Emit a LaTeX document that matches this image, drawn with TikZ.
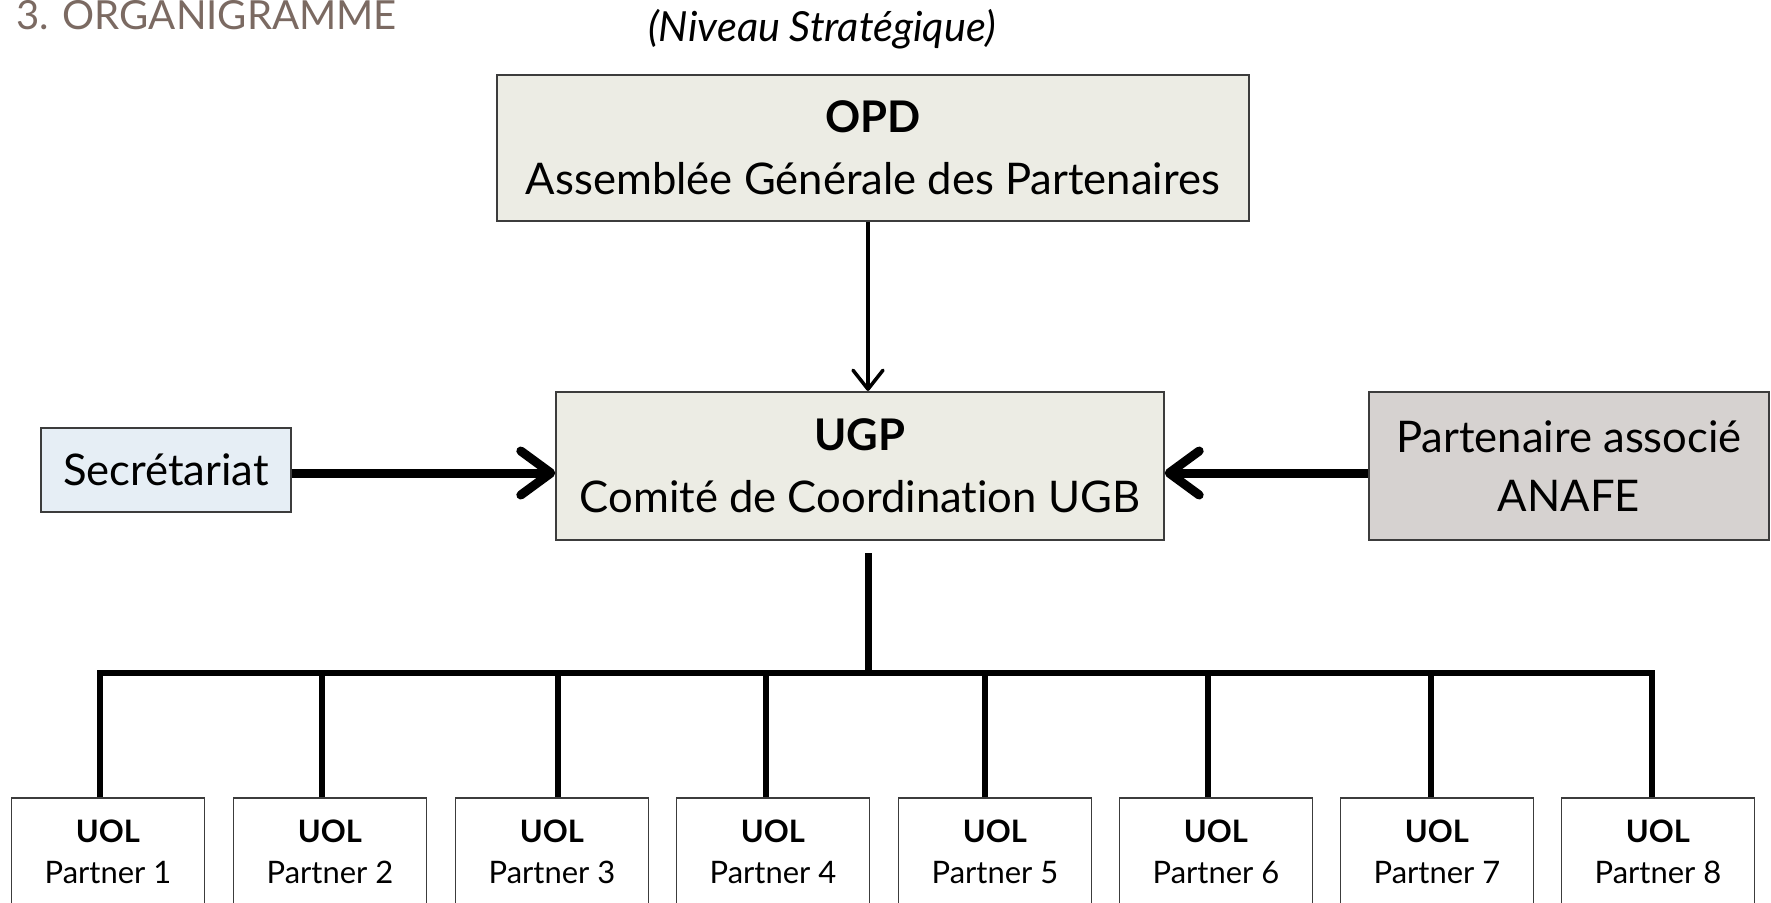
\documentclass[tikz,border=0pt]{standalone}
\usepackage{fontspec}
\setmainfont{Lato}[Ligatures=NoCommon]
\usetikzlibrary{arrows.meta}
\definecolor{boxfill}{HTML}{ECECE4}
\definecolor{secfill}{HTML}{E6EEF5}
\definecolor{anafefill}{HTML}{D6D2D0}
\definecolor{edge}{HTML}{3C3C3C}
\definecolor{titlecol}{HTML}{7B6A62}
\tikzset{
  mainbox/.style={draw=edge, line width=0.02cm, fill=boxfill, align=center, inner sep=0pt,
    font=\fontsize{12.4}{17.6}\selectfont},
  secbox/.style={draw=edge, line width=0.02cm, fill=secfill, align=center, inner sep=0pt,
    font=\fontsize{12.4}{17.6}\selectfont},
  anafebox/.style={draw=edge, line width=0.02cm, fill=anafefill, align=center, inner sep=0pt,
    font=\fontsize{12.4}{16.8}\selectfont},
  uolbox/.style={draw=edge, line width=0.016cm, fill=white, align=center, inner sep=0pt,
    anchor=north, minimum width=1.93cm, minimum height=1.08cm,
    font=\fontsize{8.8}{11.4}\selectfont},
  thinarrow/.style={line width=0.035cm, -{Straight Barb[length=0.19cm, width=0.3cm, round]}},
  thickarrow/.style={line width=0.09cm, -{Straight Barb[length=0.3cm, width=0.44cm, round]}},
  busline/.style={line width=0.06cm, line join=miter},
}
\begin{document}
\begin{tikzpicture}[x=0.01cm, y=-0.01cm]
\clip (0,0) rectangle (1771,902);
\fill[white] (0,0) rectangle (1771,902);

\node[anchor=base west, text=titlecol, font=\fontsize{11.4}{13}\selectfont] (title) at (4,29) {3. ORGANIGRAMME};
\node[anchor=base, font=\fontsize{11.8}{13}\selectfont\itshape] (niveau) at (822,41) {(Niveau Stratégique)};

\node[mainbox, minimum width=7.52cm, minimum height=1.45cm] (opd) at (873,148)
  {\textbf{OPD}\\Assemblée Générale des Partenaires};
\node[mainbox, minimum width=6.07cm, minimum height=1.48cm] (ugp) at (860,466)
  {\textbf{UGP}\\Comité de Coordination UGB};
\node[secbox, minimum width=2.49cm, minimum height=0.84cm] (sec) at (166,470) {Secrétariat};
\node[anafebox, minimum width=4.0cm, minimum height=1.48cm] (anafe) at (1569,466)
  {Partenaire associé\\ANAFE};

\foreach \i/\cx in {1/108,2/330,3/552,4/773,5/995,6/1216,7/1437,8/1658}{
  \node[uolbox] (u\i) at (\cx,797) {\textbf{UOL}\\Partner \i};
}

\coordinate (ax) at (868,0);
\coordinate (ay) at (0,473);
\draw[thinarrow] (opd.south -| ax) -- (ugp.north -| ax);
\draw[thickarrow] (sec.east |- ay) -- (ugp.west |- ay);
\draw[thickarrow] (anafe.west |- ay) -- (ugp.east |- ay);

\coordinate (hub) at (868,673);
\draw[line width=0.07cm, shorten <=0.12cm] (ugp.south -| hub) -- (hub);

\foreach \i/\bx in {1/100,2/322,3/558,4/766,5/985,6/1208,7/1431,8/1652}{
  \coordinate (b\i) at (\bx,673);
}
\draw[busline] (u1.north -| b1) -- (b1) -- (b8) -- (u8.north -| b8);
\foreach \i in {2,...,7}{
  \draw[busline] (b\i) -- (u\i.north -| b\i);
}
\end{tikzpicture}
\end{document}
